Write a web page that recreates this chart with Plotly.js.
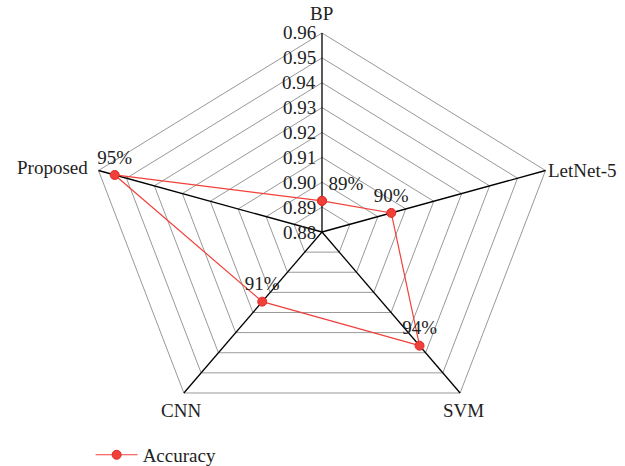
<!DOCTYPE html>
<html>
<head>
<meta charset="utf-8">
<script src="https://cdn.plot.ly/plotly-3.0.1.min.js"></script>
<style>html,body{margin:0;padding:0;background:#fff;}#chart{width:625px;height:466px;}</style>
</head>
<body>
<div id="chart"></div>
<script>
const categories = ['BP', 'LetNet-5', 'SVM', 'CNN', 'Proposed'];
const accuracy = [0.8925, 0.9048, 0.9365, 0.9146, 0.9542];
const accuracyLabels = ['89%', '90%', '94%', '91%', '95%'];
const tickValues = [0.88, 0.89, 0.90, 0.91, 0.92, 0.93, 0.94, 0.95, 0.96];
const tickLabels = ['0.88', '0.89', '0.90', '0.91', '0.92', '0.93', '0.94', '0.95', '0.96'];
const seriesName = 'Accuracy';

const rMin = tickValues[0], rMax = tickValues[tickValues.length - 1];
const n = categories.length;
function pos(v, i) {
  const r = (v - rMin) / (rMax - rMin);
  const a = Math.PI / 2 - i * 2 * Math.PI / n;
  return [r * Math.cos(a), r * Math.sin(a)];
}

const FONT = "'Liberation Serif', 'DejaVu Serif', serif";
const traces = [];

// grid rings
const gx = [], gy = [];
tickValues.slice(1).forEach(t => {
  for (let i = 0; i <= n; i++) { const p = pos(t, i % n); gx.push(p[0]); gy.push(p[1]); }
  gx.push(null); gy.push(null);
});
traces.push({x: gx, y: gy, mode: 'lines', line: {color: '#999999', width: 1}, hoverinfo: 'skip', showlegend: false});

// spokes
const sx = [], sy = [];
for (let i = 0; i < n; i++) {
  const c = pos(rMin, i), o = pos(rMax, i);
  sx.push(c[0], o[0], null); sy.push(c[1], o[1], null);
}
traces.push({x: sx, y: sy, mode: 'lines', line: {color: '#000000', width: 1.3}, hoverinfo: 'skip', showlegend: false});

// data series
const dx = [], dy = [];
for (let i = 0; i <= n; i++) { const p = pos(accuracy[i % n], i % n); dx.push(p[0]); dy.push(p[1]); }
traces.push({
  x: dx, y: dy, name: seriesName, mode: 'lines+markers+text',
  text: accuracyLabels.concat(['']),
  textposition: ['top right', 'top center', 'top center', 'top center', 'top center', 'top center'],
  textfont: {family: FONT, size: 19, color: '#222'},
  line: {color: '#f0403a', width: 1.2},
  marker: {symbol: 'circle', size: 9, color: '#f0403a', line: {color: '#e02a24', width: 1}}
});

const annotations = [];
// radial tick labels along first axis
tickValues.forEach((t, k) => {
  const p = pos(t, 0);
  annotations.push({x: p[0], y: p[1], xref: 'x', yref: 'y', text: tickLabels[k], showarrow: false,
    xanchor: 'right', yanchor: 'middle', xshift: -4, font: {family: FONT, size: 19, color: '#222'}});
});
// category labels
const catAnchors = [
  {xanchor: 'center', yanchor: 'bottom', xshift: 0, yshift: 7},
  {xanchor: 'left', yanchor: 'middle', xshift: 1, yshift: 0},
  {xanchor: 'center', yanchor: 'top', xshift: 3, yshift: -5},
  {xanchor: 'center', yanchor: 'top', xshift: -3, yshift: -5},
  {xanchor: 'right', yanchor: 'middle', xshift: -9, yshift: 3}
];
categories.forEach((c, i) => {
  const p = pos(rMax, i);
  annotations.push(Object.assign({x: p[0], y: p[1], xref: 'x', yref: 'y', text: c, showarrow: false,
    font: {family: FONT, size: 19, color: '#222'}}, catAnchors[i]));
});

const layout = {
  width: 625, height: 466,
  margin: {l: 0, r: 0, t: 0, b: 0, autoexpand: false},
  paper_bgcolor: '#ffffff', plot_bgcolor: '#ffffff',
  xaxis: {range: [-1.3702, 1.2894], visible: false, fixedrange: true},
  yaxis: {range: [-1.1759, 1.1658], visible: false, fixedrange: true},
  showlegend: true,
  legend: {x: 0.145, y: -0.017, xanchor: 'left', yanchor: 'bottom', orientation: 'h', itemwidth: 42,
    font: {family: FONT, size: 19, color: '#222'}, bgcolor: 'rgba(0,0,0,0)'},
  annotations: annotations
};

Plotly.newPlot('chart', traces, layout, {displayModeBar: false, staticPlot: true});
</script>
</body>
</html>
